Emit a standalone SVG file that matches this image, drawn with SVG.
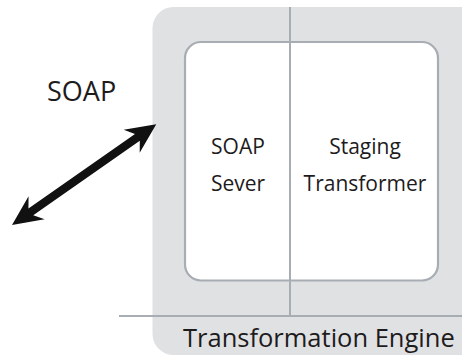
<svg xmlns="http://www.w3.org/2000/svg" width="462" height="356" viewBox="0 0 462 356">
  <style>
    .label { font-family: "Open Sans", "Liberation Sans", sans-serif; fill: #1e1b1c; }
    .rule { stroke: #a7adb3; stroke-width: 2; fill: none; }
    .panel { stroke: #a7adb3; stroke-width: 2.2; fill: #ffffff; }
  </style>
  <rect width="462" height="356" fill="#ffffff"/>

  <!-- Transformation Engine container -->
  <g id="engine">
    <rect x="152.5" y="7" width="330" height="348" rx="21" ry="21" fill="#e0e1e3"/>
    <text class="label" x="183" y="347" font-size="25.5">Transformation Engine</text>
  </g>

  <!-- inner component panel -->
  <g id="panel">
    <rect class="panel" x="185" y="42" width="253" height="238.5" rx="16" ry="16"/>
  </g>

  <g id="soap-sever">
    <text class="label" x="238" y="154" font-size="21" text-anchor="middle">SOAP</text>
    <text class="label" x="238" y="191" font-size="21" text-anchor="middle">Sever</text>
  </g>

  <g id="staging-transformer">
    <text class="label" x="365" y="154" font-size="21" text-anchor="middle">Staging</text>
    <text class="label" x="365" y="191" font-size="21" text-anchor="middle">Transformer</text>
  </g>

  <g id="connectors">
    <line class="rule" x1="290" y1="7" x2="290" y2="316"/>
    <line class="rule" x1="119" y1="316" x2="462" y2="316"/>
    <!-- bidirectional SOAP link -->
    <polygon transform="translate(12,225) rotate(-34.96)" fill="#111111"
      points="0,0 30,-14 23,-4.2 153,-4.2 146,-14 176,0 146,14 153,4.2 23,4.2 30,14"/>
  </g>

  <g id="soap-label">
    <text class="label" x="47" y="101" font-size="27">SOAP</text>
  </g>
</svg>
